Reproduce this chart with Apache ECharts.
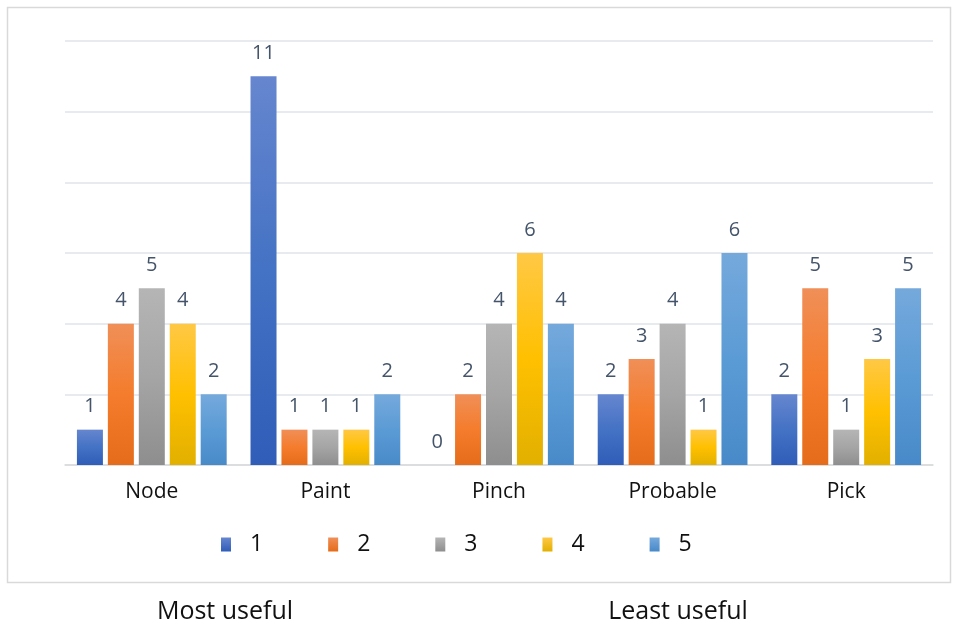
<!DOCTYPE html>
<html>
<head>
<meta charset="utf-8">
<script src="https://cdn.jsdelivr.net/npm/echarts@6/dist/echarts.min.js"></script>
<style>
  html, body { margin: 0; padding: 0; background: #fff; }
  #chart { width: 957px; height: 627px; }
</style>
</head>
<body>
<div id="chart"></div>
<script>
// Gesture names along the x axis
const categories = ['Node', 'Paint', 'Pinch', 'Probable', 'Pick'];
// Rating names shown in the legend
const seriesNames = ['1', '2', '3', '4', '5'];
// Count of answers per rating, one array per rating
const rating1 = [1, 11, 0, 2, 2];
const rating2 = [4, 1, 2, 3, 5];
const rating3 = [5, 1, 4, 4, 1];
const rating4 = [4, 1, 6, 1, 3];
const rating5 = [2, 2, 4, 6, 5];
// Caption texts under the chart
const captionLeft = 'Most useful';
const captionRight = 'Least useful';

const values = [rating1, rating2, rating3, rating4, rating5];
const gradients = [
  ['#6686cf', '#4472c4', '#2f5db8'],
  ['#f08f58', '#f47c2c', '#e46c1a'],
  ['#b5b5b5', '#a5a5a5', '#8e8e8e'],
  ['#ffc845', '#ffc000', '#e2b000'],
  ['#75a9dc', '#5b9bd5', '#4889c9']
];
const FONT = '"Open Sans", Lato, sans-serif';

const chart = echarts.init(document.getElementById('chart'));

const series = values.map((data, i) => ({
  name: seriesNames[i],
  type: 'bar',
  data: data,
  barWidth: 26,
  barGap: '19%',
  itemStyle: {
    color: new echarts.graphic.LinearGradient(0, 0, 0, 1, [
      { offset: 0, color: gradients[i][0] },
      { offset: 0.5, color: gradients[i][1] },
      { offset: 1, color: gradients[i][2] }
    ])
  },
  label: {
    show: true,
    position: 'top',
    distance: 13,
    color: '#44546a',
    fontSize: 20,
    fontFamily: FONT
  }
}));

chart.setOption({
  animation: false,
  backgroundColor: '#ffffff',
  grid: { left: 65, right: 24, top: 41, bottom: 162 },
  legend: {
    data: seriesNames.map((n, i) => ({
      name: n,
      itemStyle: {
        color: new echarts.graphic.LinearGradient(0, 0, 0, 1, [
          { offset: 0, color: gradients[i][0] },
          { offset: 1, color: gradients[i][2] }
        ])
      }
    })),
    left: 216,
    top: 528,
    itemWidth: 10,
    itemHeight: 14,
    itemGap: 65,
    icon: 'rect',
    textStyle: {
      fontSize: 23,
      color: '#111',
      fontFamily: FONT,
      padding: [0, 0, 0, 14]
    }
  },
  xAxis: {
    type: 'category',
    data: categories,
    axisLine: { show: true, lineStyle: { color: '#d9d9d9', width: 1.5 } },
    axisTick: { show: false },
    axisLabel: { color: '#111', fontSize: 21, fontFamily: FONT, margin: 17 }
  },
  yAxis: {
    type: 'value',
    min: 0,
    max: 12,
    interval: 2,
    axisLabel: { show: false },
    axisLine: { show: false },
    axisTick: { show: false },
    splitLine: { lineStyle: { color: '#dfe3e8', width: 1.5 } }
  },
  series: series,
  graphic: [
    {
      type: 'rect',
      shape: { x: 7.5, y: 7.5, width: 943, height: 575 },
      style: { fill: 'none', stroke: '#d9d9d9', lineWidth: 1.5 },
      silent: true
    },
    {
      type: 'text',
      x: 225, y: 612,
      style: {
        text: captionLeft, fontSize: 25, fill: '#111', fontFamily: FONT,
        textAlign: 'center', textVerticalAlign: 'middle'
      }
    },
    {
      type: 'text',
      x: 678, y: 612,
      style: {
        text: captionRight, fontSize: 25, fill: '#111', fontFamily: FONT,
        textAlign: 'center', textVerticalAlign: 'middle'
      }
    }
  ]
});
</script>
</body>
</html>
